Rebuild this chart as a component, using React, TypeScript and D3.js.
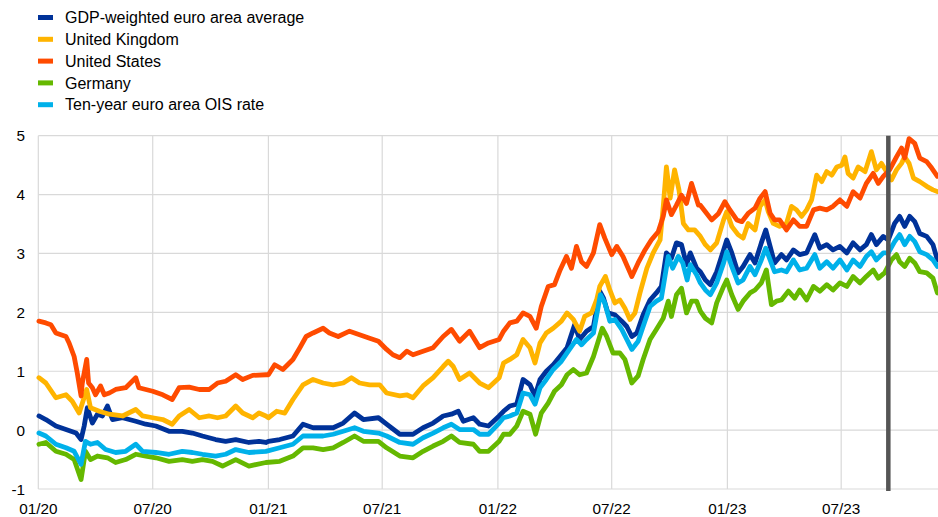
import React from "react";
import * as d3 from "d3";

type Pt = [string, number];

const SERIES_NAMES = [
  "GDP-weighted euro area average",
  "United Kingdom",
  "United States",
  "Germany",
  "Ten-year euro area OIS rate",
];
const SERIES_COLORS = ["#003299", "#FFB400", "#FF4B00", "#65B800", "#00B1EA"];

const Y_TICKS = [-1, 0, 1, 2, 3, 4, 5];
const X_TICKS = ["2020-01-01", "2020-07-01", "2021-01-01", "2021-07-01", "2022-01-01", "2022-07-01", "2023-01-01", "2023-07-01"];
const X_DOMAIN = ["2020-01-01", "2023-12-02"];
const MARKER_DATE = "2023-09-14";

const gdpWeighted: Pt[] = [
  ["2020-01-02",0.24],["2020-01-13",0.18],["2020-01-29",0.07],["2020-02-14",0.01],["2020-03-01",-0.05],["2020-03-09",-0.16],["2020-03-14",0.07],["2020-03-19",0.38],["2020-03-27",0.12],["2020-04-04",0.27],["2020-04-12",0.24],["2020-04-20",0.41],["2020-04-28",0.18],["2020-05-14",0.21],["2020-06-04",0.15],["2020-06-20",0.10],["2020-07-06",0.07],["2020-07-27",-0.02],["2020-08-17",-0.02],["2020-09-02",-0.05],["2020-09-18",-0.10],["2020-10-09",-0.16],["2020-10-25",-0.19],["2020-11-10",-0.16],["2020-12-01",-0.21],["2020-12-17",-0.19],["2020-12-28",-0.21],
  ["2021-01-01",-0.19],["2021-01-19",-0.16],["2021-02-09",-0.10],["2021-02-25",0.10],["2021-03-13",0.04],["2021-03-29",0.04],["2021-04-14",0.04],["2021-04-30",0.12],["2021-05-18",0.29],["2021-06-01",0.18],["2021-06-25",0.21],["2021-07-08",0.10],["2021-07-29",-0.07],["2021-08-19",-0.07],["2021-09-04",0.04],["2021-09-20",0.12],["2021-10-06",0.24],["2021-10-19",0.27],["2021-10-30",0.32],["2021-11-07",0.15],["2021-11-23",0.21],["2021-12-03",0.10],
  ["2021-12-17",0.07],["2022-01-03",0.24],["2022-01-10",0.32],["2022-01-20",0.41],["2022-01-31",0.44],["2022-02-10",0.86],["2022-02-21",0.77],["2022-03-01",0.58],["2022-03-09",0.86],["2022-03-19",1.00],["2022-03-30",1.11],["2022-04-12",1.28],["2022-04-21",1.40],["2022-05-03",1.79],["2022-05-11",1.54],["2022-05-22",1.68],["2022-06-02",1.76],["2022-06-12",2.36],["2022-06-18",2.24],["2022-06-25",1.99],["2022-07-06",1.96],["2022-07-17",1.85],["2022-07-25",1.76],["2022-08-02",1.59],["2022-08-10",1.65],["2022-08-20",1.96],["2022-08-31",2.21],["2022-09-10",2.33],["2022-09-18",2.44],["2022-09-26",3.01],["2022-10-04",2.92],["2022-10-12",3.18],["2022-10-20",3.15],["2022-10-28",2.81],["2022-11-03",3.01],["2022-11-13",2.75],
  ["2022-11-19",2.69],["2022-11-27",2.55],["2022-12-05",2.47],["2022-12-15",2.69],["2022-12-26",3.06],["2022-12-31",3.23],["2023-01-08",3.01],["2023-01-18",2.67],["2023-01-26",2.78],["2023-02-06",2.98],["2023-02-14",2.84],["2023-02-24",3.18],["2023-03-03",3.40],["2023-03-10",3.12],["2023-03-17",2.84],["2023-03-28",2.98],["2023-04-05",2.89],["2023-04-16",3.06],["2023-04-26",2.98],["2023-05-07",3.01],["2023-05-20",3.32],["2023-05-28",3.09],["2023-06-08",3.15],["2023-06-18",3.06],["2023-06-29",3.12],["2023-07-10",3.01],["2023-07-20",3.18],["2023-07-31",3.06],["2023-08-10",3.15],["2023-08-18",3.32],["2023-08-26",3.15],["2023-09-06",3.29],["2023-09-14",3.23],["2023-09-24",3.51],["2023-10-02",3.63],["2023-10-10",3.46],["2023-10-18",3.63],["2023-10-26",3.54],["2023-11-03",3.34],["2023-11-14",3.29],["2023-11-24",3.15],["2023-12-01",2.89],
];

const unitedKingdom: Pt[] = [
  ["2020-01-02",0.89],["2020-01-13",0.80],["2020-01-29",0.55],["2020-02-14",0.60],["2020-02-24",0.49],["2020-03-06",0.29],["2020-03-18",0.69],["2020-03-24",0.38],["2020-04-07",0.32],["2020-04-23",0.27],["2020-05-14",0.24],["2020-06-04",0.35],["2020-06-15",0.24],["2020-07-01",0.21],["2020-07-17",0.18],["2020-08-01",0.10],["2020-08-12",0.24],["2020-08-28",0.35],["2020-09-13",0.21],["2020-09-29",0.24],["2020-10-12",0.21],["2020-10-25",0.24],["2020-11-10",0.41],["2020-11-21",0.29],["2020-12-07",0.21],["2020-12-17",0.29],["2020-12-28",0.24],
  ["2021-01-01",0.21],["2021-01-14",0.32],["2021-01-27",0.29],["2021-02-09",0.52],["2021-02-25",0.77],["2021-03-13",0.86],["2021-03-29",0.80],["2021-04-14",0.77],["2021-04-30",0.80],["2021-05-13",0.89],["2021-05-26",0.80],["2021-06-11",0.77],["2021-06-27",0.77],["2021-07-08",0.63],["2021-07-29",0.58],["2021-08-09",0.60],["2021-08-19",0.55],["2021-09-04",0.75],["2021-09-20",0.89],["2021-10-06",1.08],["2021-10-14",1.17],["2021-10-22",1.08],["2021-11-01",0.86],["2021-11-17",0.97],["2021-12-03",0.80],
  ["2021-12-17",0.72],["2022-01-03",0.89],["2022-01-10",1.14],["2022-01-20",1.20],["2022-01-31",1.28],["2022-02-10",1.54],["2022-02-21",1.40],["2022-03-01",1.14],["2022-03-09",1.48],["2022-03-19",1.65],["2022-03-30",1.73],["2022-04-12",1.85],["2022-04-21",1.99],["2022-05-01",1.88],["2022-05-11",1.68],["2022-05-19",1.93],["2022-05-30",1.99],["2022-06-07",2.21],["2022-06-12",2.44],["2022-06-21",2.61],["2022-06-28",2.38],["2022-07-06",2.16],["2022-07-14",2.21],["2022-07-22",2.07],["2022-07-30",1.88],["2022-08-07",1.99],["2022-08-15",2.33],["2022-08-26",2.75],["2022-09-05",3.01],["2022-09-16",3.23],["2022-09-21",3.80],["2022-09-26",4.47],["2022-10-02",3.94],["2022-10-09",4.42],["2022-10-16",4.08],["2022-10-23",3.51],["2022-10-31",3.40],["2022-11-10",3.40],["2022-11-19",3.29],
  ["2022-11-27",3.15],["2022-12-05",3.06],["2022-12-15",3.18],["2022-12-26",3.57],["2022-12-31",3.71],["2023-01-08",3.46],["2023-01-18",3.32],["2023-01-26",3.26],["2023-02-03",3.51],["2023-02-14",3.40],["2023-02-22",3.80],["2023-03-02",3.91],["2023-03-07",3.71],["2023-03-15",3.51],["2023-03-25",3.46],["2023-04-05",3.51],["2023-04-13",3.80],["2023-04-21",3.74],["2023-04-29",3.63],["2023-05-07",3.74],["2023-05-15",3.91],["2023-05-23",4.33],["2023-05-31",4.22],["2023-06-08",4.39],["2023-06-16",4.33],["2023-06-24",4.47],["2023-07-02",4.50],["2023-07-07",4.64],["2023-07-12",4.36],["2023-07-20",4.28],["2023-07-28",4.47],["2023-08-08",4.39],["2023-08-18",4.73],["2023-08-26",4.42],["2023-09-03",4.53],["2023-09-11",4.39],["2023-09-19",4.25],["2023-09-27",4.42],["2023-10-05",4.53],["2023-10-10",4.64],["2023-10-17",4.53],["2023-10-24",4.28],["2023-11-03",4.22],["2023-11-14",4.14],["2023-11-24",4.08],["2023-12-01",4.05],
];

const unitedStates: Pt[] = [
  ["2020-01-02",1.85],["2020-01-13",1.82],["2020-01-21",1.79],["2020-01-29",1.65],["2020-02-06",1.62],["2020-02-14",1.59],["2020-02-19",1.48],["2020-02-27",1.25],["2020-03-03",0.97],["2020-03-09",0.58],["2020-03-11",0.80],["2020-03-18",1.20],["2020-03-21",0.80],["2020-03-27",0.72],["2020-04-01",0.60],["2020-04-09",0.75],["2020-04-15",0.60],["2020-04-23",0.63],["2020-05-03",0.69],["2020-05-19",0.72],["2020-06-04",0.89],["2020-06-09",0.72],["2020-06-20",0.69],["2020-07-01",0.66],["2020-07-17",0.60],["2020-08-01",0.52],["2020-08-12",0.72],["2020-08-28",0.73],["2020-09-13",0.69],["2020-09-29",0.69],["2020-10-12",0.80],["2020-10-25",0.83],["2020-11-10",0.94],["2020-11-21",0.86],["2020-12-07",0.93],["2020-12-28",0.94],
  ["2021-01-01",0.94],["2021-01-11",1.11],["2021-01-24",1.03],["2021-02-09",1.20],["2021-02-20",1.40],["2021-03-02",1.59],["2021-03-13",1.65],["2021-03-29",1.73],["2021-04-08",1.65],["2021-04-22",1.59],["2021-05-10",1.68],["2021-05-26",1.62],["2021-06-11",1.56],["2021-06-25",1.51],["2021-07-08",1.37],["2021-07-18",1.28],["2021-07-29",1.23],["2021-08-09",1.34],["2021-08-19",1.28],["2021-09-04",1.34],["2021-09-20",1.40],["2021-10-06",1.59],["2021-10-19",1.71],["2021-11-01",1.51],["2021-11-17",1.68],["2021-12-03",1.40],
  ["2021-12-17",1.48],["2022-01-03",1.54],["2022-01-10",1.68],["2022-01-20",1.82],["2022-01-31",1.85],["2022-02-10",1.99],["2022-02-21",1.93],["2022-03-03",1.73],["2022-03-11",2.10],["2022-03-22",2.44],["2022-04-01",2.47],["2022-04-10",2.72],["2022-04-20",2.95],["2022-04-28",2.75],["2022-05-06",3.12],["2022-05-14",2.86],["2022-05-22",2.78],["2022-06-02",3.01],["2022-06-12",3.49],["2022-06-20",3.26],["2022-07-01",2.98],["2022-07-09",3.12],["2022-07-19",2.95],["2022-08-02",2.61],["2022-08-12",2.84],["2022-08-23",3.06],["2022-09-02",3.23],["2022-09-13",3.37],["2022-09-21",3.63],["2022-09-26",3.91],["2022-10-04",3.66],["2022-10-12",3.82],["2022-10-20",3.99],["2022-10-28",3.85],["2022-11-05",4.19],["2022-11-16",3.82],
  ["2022-11-19",3.82],["2022-11-27",3.71],["2022-12-07",3.57],["2022-12-18",3.68],["2022-12-28",3.88],["2023-01-05",3.74],["2023-01-16",3.57],["2023-01-24",3.54],["2023-02-03",3.68],["2023-02-14",3.77],["2023-02-22",3.94],["2023-03-02",4.05],["2023-03-10",3.68],["2023-03-17",3.57],["2023-03-25",3.57],["2023-04-05",3.40],["2023-04-16",3.57],["2023-04-26",3.46],["2023-05-07",3.46],["2023-05-18",3.74],["2023-05-28",3.77],["2023-06-08",3.74],["2023-06-18",3.80],["2023-06-29",3.91],["2023-07-10",3.80],["2023-07-20",4.05],["2023-07-31",3.94],["2023-08-10",4.19],["2023-08-21",4.36],["2023-08-29",4.19],["2023-09-06",4.31],["2023-09-16",4.42],["2023-09-27",4.64],["2023-10-05",4.79],["2023-10-10",4.62],["2023-10-17",4.95],["2023-10-26",4.87],["2023-11-03",4.62],["2023-11-14",4.56],["2023-11-22",4.45],["2023-12-01",4.31],
];

const germany: Pt[] = [
  ["2020-01-02",-0.24],["2020-01-13",-0.21],["2020-01-29",-0.36],["2020-02-14",-0.41],["2020-02-27",-0.50],["2020-03-09",-0.84],["2020-03-16",-0.36],["2020-03-24",-0.50],["2020-04-04",-0.44],["2020-04-20",-0.47],["2020-05-03",-0.55],["2020-05-19",-0.50],["2020-06-04",-0.41],["2020-06-20",-0.44],["2020-07-06",-0.47],["2020-07-27",-0.53],["2020-08-17",-0.50],["2020-09-02",-0.53],["2020-09-18",-0.50],["2020-10-04",-0.53],["2020-10-20",-0.61],["2020-11-10",-0.50],["2020-12-01",-0.61],["2020-12-28",-0.55],
  ["2021-01-19",-0.53],["2021-02-09",-0.44],["2021-02-25",-0.30],["2021-03-13",-0.30],["2021-03-29",-0.33],["2021-04-14",-0.30],["2021-04-30",-0.21],["2021-05-18",-0.10],["2021-06-01",-0.19],["2021-06-25",-0.19],["2021-07-08",-0.30],["2021-07-29",-0.44],["2021-08-19",-0.47],["2021-09-04",-0.36],["2021-09-20",-0.27],["2021-10-06",-0.19],["2021-10-19",-0.10],["2021-11-01",-0.21],["2021-11-23",-0.24],["2021-12-03",-0.36],
  ["2021-12-17",-0.36],["2022-01-03",-0.19],["2022-01-10",-0.07],["2022-01-20",-0.07],["2022-01-31",0.07],["2022-02-10",0.32],["2022-02-21",0.27],["2022-03-02",-0.07],["2022-03-11",0.29],["2022-03-22",0.46],["2022-04-01",0.66],["2022-04-12",0.77],["2022-04-21",0.94],["2022-05-01",1.03],["2022-05-11",0.94],["2022-05-22",0.97],["2022-06-02",1.25],["2022-06-16",1.73],["2022-06-23",1.59],["2022-07-03",1.31],["2022-07-14",1.31],["2022-07-22",1.20],["2022-08-02",0.80],["2022-08-12",0.92],["2022-08-20",1.20],["2022-08-31",1.54],["2022-09-10",1.71],["2022-09-21",1.90],["2022-09-29",2.19],["2022-10-04",1.93],["2022-10-12",2.30],["2022-10-20",2.41],["2022-10-28",1.99],["2022-11-05",2.19],["2022-11-13",2.19],
  ["2022-11-19",2.02],["2022-11-27",1.90],["2022-12-07",1.82],["2022-12-15",2.16],["2022-12-26",2.44],["2022-12-31",2.55],["2023-01-08",2.30],["2023-01-18",2.05],["2023-01-26",2.19],["2023-02-06",2.33],["2023-02-14",2.38],["2023-02-24",2.50],["2023-03-04",2.72],["2023-03-12",2.13],["2023-03-20",2.19],["2023-03-28",2.21],["2023-04-08",2.36],["2023-04-18",2.24],["2023-04-26",2.38],["2023-05-07",2.21],["2023-05-18",2.44],["2023-05-28",2.36],["2023-06-08",2.47],["2023-06-18",2.38],["2023-06-29",2.50],["2023-07-10",2.44],["2023-07-20",2.61],["2023-07-31",2.50],["2023-08-10",2.61],["2023-08-21",2.72],["2023-08-29",2.58],["2023-09-08",2.67],["2023-09-19",2.89],["2023-09-27",2.98],["2023-10-02",2.86],["2023-10-10",2.78],["2023-10-18",2.92],["2023-10-26",2.84],["2023-11-03",2.69],["2023-11-14",2.67],["2023-11-24",2.58],["2023-12-01",2.33],
];

const oisRate: Pt[] = [
  ["2020-01-02",-0.05],["2020-01-13",-0.10],["2020-01-29",-0.24],["2020-02-14",-0.30],["2020-02-27",-0.36],["2020-03-09",-0.58],["2020-03-16",-0.19],["2020-03-24",-0.24],["2020-04-04",-0.21],["2020-04-17",-0.33],["2020-05-03",-0.38],["2020-05-19",-0.36],["2020-06-04",-0.24],["2020-06-15",-0.36],["2020-07-06",-0.38],["2020-07-27",-0.41],["2020-08-17",-0.36],["2020-09-02",-0.38],["2020-09-18",-0.41],["2020-10-09",-0.44],["2020-10-25",-0.41],["2020-11-10",-0.33],["2020-12-01",-0.38],["2020-12-28",-0.36],
  ["2021-01-19",-0.30],["2021-02-09",-0.24],["2021-02-25",-0.10],["2021-03-13",-0.10],["2021-03-29",-0.10],["2021-04-14",-0.07],["2021-04-30",-0.02],["2021-05-18",0.04],["2021-06-01",-0.02],["2021-06-25",-0.05],["2021-07-08",-0.10],["2021-07-29",-0.21],["2021-08-19",-0.24],["2021-09-04",-0.13],["2021-09-20",-0.05],["2021-10-06",0.04],["2021-10-19",0.10],["2021-11-01",0.01],["2021-11-23",0.01],["2021-12-03",-0.07],
  ["2021-12-17",-0.07],["2022-01-03",0.12],["2022-01-10",0.21],["2022-01-20",0.24],["2022-01-31",0.29],["2022-02-10",0.63],["2022-02-21",0.60],["2022-03-01",0.44],["2022-03-09",0.72],["2022-03-19",0.86],["2022-03-30",1.03],["2022-04-12",1.17],["2022-04-21",1.31],["2022-05-06",1.54],["2022-05-14",1.45],["2022-05-22",1.54],["2022-06-02",1.65],["2022-06-13",2.30],["2022-06-20",2.16],["2022-06-28",1.85],["2022-07-06",1.88],["2022-07-17",1.71],["2022-07-25",1.54],["2022-08-02",1.37],["2022-08-12",1.51],["2022-08-20",1.76],["2022-08-31",2.10],["2022-09-10",2.19],["2022-09-18",2.24],["2022-09-29",2.95],["2022-10-06",2.75],["2022-10-15",2.95],["2022-10-22",2.84],["2022-10-29",2.55],["2022-11-03",2.81],["2022-11-13",2.64],
  ["2022-11-19",2.50],["2022-11-27",2.38],["2022-12-05",2.30],["2022-12-15",2.50],["2022-12-26",2.84],["2022-12-31",3.03],["2023-01-08",2.78],["2023-01-18",2.50],["2023-01-26",2.55],["2023-02-06",2.78],["2023-02-14",2.64],["2023-02-24",2.89],["2023-03-03",3.09],["2023-03-10",2.89],["2023-03-17",2.69],["2023-03-28",2.72],["2023-04-05",2.69],["2023-04-16",2.89],["2023-04-26",2.72],["2023-05-07",2.75],["2023-05-20",2.98],["2023-05-28",2.75],["2023-06-08",2.86],["2023-06-18",2.75],["2023-06-29",2.89],["2023-07-10",2.72],["2023-07-20",2.89],["2023-07-31",2.78],["2023-08-10",2.95],["2023-08-18",3.03],["2023-08-26",2.89],["2023-09-06",3.01],["2023-09-14",3.01],["2023-09-24",3.20],["2023-10-02",3.32],["2023-10-10",3.15],["2023-10-18",3.29],["2023-10-26",3.20],["2023-11-03",3.03],["2023-11-14",2.98],["2023-11-24",2.89],["2023-12-01",2.78],
];

const SERIES_DATA: Pt[][] = [gdpWeighted, unitedKingdom, unitedStates, germany, oisRate];

const W = 938;
const H = 517;
const M = { left: 38.3, right: 938, top: 135.7, bottom: 489 };
const FONT = "'Liberation Sans', Arial, Helvetica, sans-serif";

export default function App() {
  const parse = d3.timeParse("%Y-%m-%d");
  const fmt = d3.timeFormat("%m/%y");
  const x = d3.scaleTime().domain(X_DOMAIN.map((d) => parse(d) as Date)).range([M.left, M.right]);
  const y = d3.scaleLinear().domain([-1, 5]).range([M.bottom, M.top]);
  const line = d3
    .line<Pt>()
    .x((d) => x(parse(d[0]) as Date))
    .y((d) => y(d[1]));
  const xTicks = X_TICKS.map((d) => parse(d) as Date);
  const mx = x(parse(MARKER_DATE) as Date);
  const grid = "#d9d9d9";

  return (
    <svg width={W} height={H} style={{ position: "absolute", left: 0, top: 0, background: "#fff" }} fontFamily={FONT}>
      <rect x={0} y={0} width={W} height={H} fill="#fff" />
      {Y_TICKS.map((t) => (
        <line key={"gy" + t} x1={M.left} x2={M.right} y1={y(t)} y2={y(t)} stroke={grid} strokeWidth={1.2} />
      ))}
      {xTicks.map((t, i) => (
        <line key={"gx" + i} x1={x(t)} x2={x(t)} y1={M.top} y2={M.bottom} stroke={grid} strokeWidth={1.2} />
      ))}
      {Y_TICKS.map((t) => (
        <text key={"ty" + t} x={25} y={y(t)} dy="0.36em" textAnchor="end" fontSize={15.3} fill="#000">
          {t}
        </text>
      ))}
      {xTicks.map((t, i) => (
        <text key={"tx" + i} x={x(t)} y={513.5} textAnchor="middle" fontSize={15.3} fill="#000">
          {fmt(t)}
        </text>
      ))}
      <g fill="none" strokeLinejoin="round" strokeLinecap="round">
        {SERIES_DATA.map((s, i) => (
          <path key={"s" + i} d={line(s) || ""} stroke={SERIES_COLORS[i]} strokeWidth={4.8} />
        ))}
      </g>
      <line x1={mx} x2={mx} y1={M.top} y2={M.bottom + 2} stroke="#555555" strokeWidth={4.5} />
      {SERIES_NAMES.map((n, i) => (
        <g key={"lg" + i} transform={`translate(0, ${17.5 + i * 21.8})`}>
          <rect x={38} y={-2.5} width={15} height={5} fill={SERIES_COLORS[i]} />
          <text x={65} y={0} dy="0.36em" fontSize={16} fill="#000">
            {n}
          </text>
        </g>
      ))}
    </svg>
  );
}
